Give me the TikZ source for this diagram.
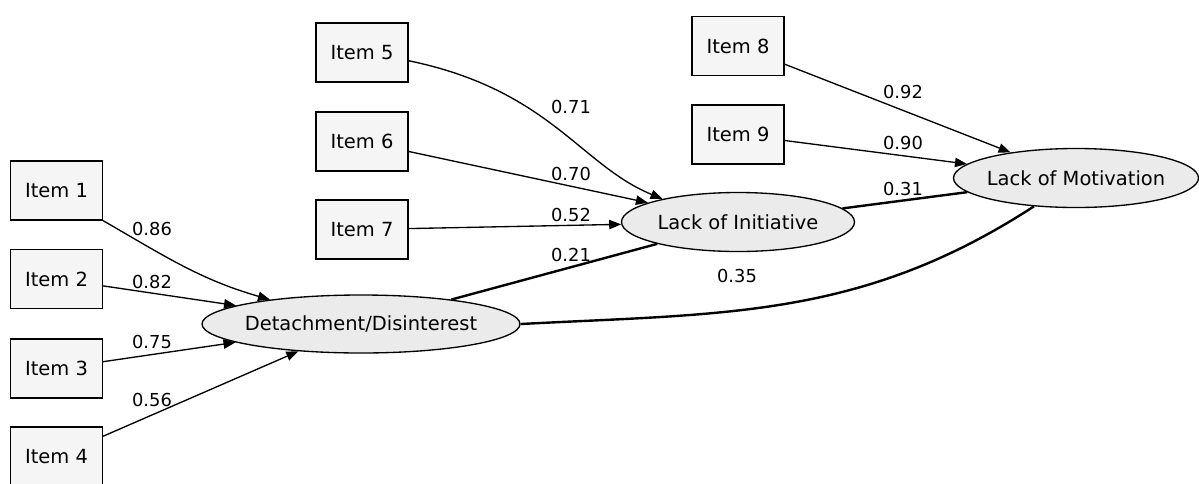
\documentclass[tikz,border=0pt]{standalone}
\usepackage{fontspec}
\setmainfont{DejaVu Sans}
\usetikzlibrary{shapes.geometric,arrows.meta}
\definecolor{boxfill}{HTML}{F5F5F5}
\definecolor{latfill}{HTML}{EBEBEB}
\tikzset{
  itembox/.style={draw=black, line width=1pt, fill=boxfill, rectangle,
    minimum width=69pt, minimum height=44.25pt, inner sep=0pt,
    font=\fontsize{14.6pt}{17pt}\selectfont},
  latent/.style={draw=black, line width=1pt, fill=latfill, ellipse,
    inner xsep=-20pt, inner ysep=-10pt, font=\fontsize{14.6pt}{17pt}\selectfont},
  load/.style={draw=black, line width=1pt,
    -{Triangle[length=9pt,width=7pt]}},
  path2/.style={draw=black, line width=1.8pt},
  coef/.style={font=\fontsize{13.4pt}{16pt}\selectfont, inner sep=0pt}
}
\begin{document}
\begin{tikzpicture}[x=0.75pt, y=-0.75pt]
\useasboundingbox (0,0) rectangle (1199,483);

% observed items
\node[itembox] (i1) at (56.5,190.5) {Item 1};
\node[itembox] (i2) at (56.5,279)   {Item 2};
\node[itembox] (i3) at (56.5,368.5) {Item 3};
\node[itembox] (i4) at (56.5,456.5) {Item 4};
\node[itembox] (i5) at (362,52.5)   {Item 5};
\node[itembox] (i6) at (362,141.5)  {Item 6};
\node[itembox] (i7) at (362,229.5)  {Item 7};
\node[itembox] (i8) at (738,46)     {Item 8};
\node[itembox] (i9) at (738,134.5)  {Item 9};

% latent factors
\node[latent, minimum width=238.5pt, minimum height=43.5pt] (det) at (361,324) {Detachment/Disinterest};
\node[latent, minimum width=174.75pt, minimum height=44.25pt] (loi) at (738,222) {Lack of Initiative};
\node[latent, minimum width=183.75pt, minimum height=44.25pt] (lom) at (1076,178) {Lack of Motivation};

% structural paths between factors
\draw[path2] (det) -- (loi);
\draw[path2] (loi) -- (lom);
\draw[path2] (det.east) to[out=3,in=213] (lom.214);

% loadings
\draw[load] (i1.south east) to[out=-30,in=164] (det.165.8);
\draw[load] (i2) -- (det);
\draw[load] (i3) -- (det);
\draw[load] (i4) -- (det);
\draw[load] (i5.-10.5) .. controls (550,90) and (580,165) .. (loi.163);
\draw[load] (i6) -- (loi);
\draw[load] (i7) -- (loi);
\draw[load] (i8) -- (lom);
\draw[load] (i9) -- (lom);

% coefficients
\node[coef] (c1) at (152,229) {0.86};
\node[coef] (c2) at (152,282) {0.82};
\node[coef] (c3) at (152,342) {0.75};
\node[coef] (c4) at (152,400) {0.56};
\node[coef] (c5) at (571,107) {0.71};
\node[coef] (c6) at (571,174) {0.70};
\node[coef] (c7) at (571,215) {0.52};
\node[coef] (c8) at (571,255) {0.21};
\node[coef] (c9) at (903,92)  {0.92};
\node[coef] (c10) at (903,143) {0.90};
\node[coef] (c11) at (903,189) {0.31};
\node[coef] (c12) at (737,276) {0.35};
\end{tikzpicture}
\end{document}
